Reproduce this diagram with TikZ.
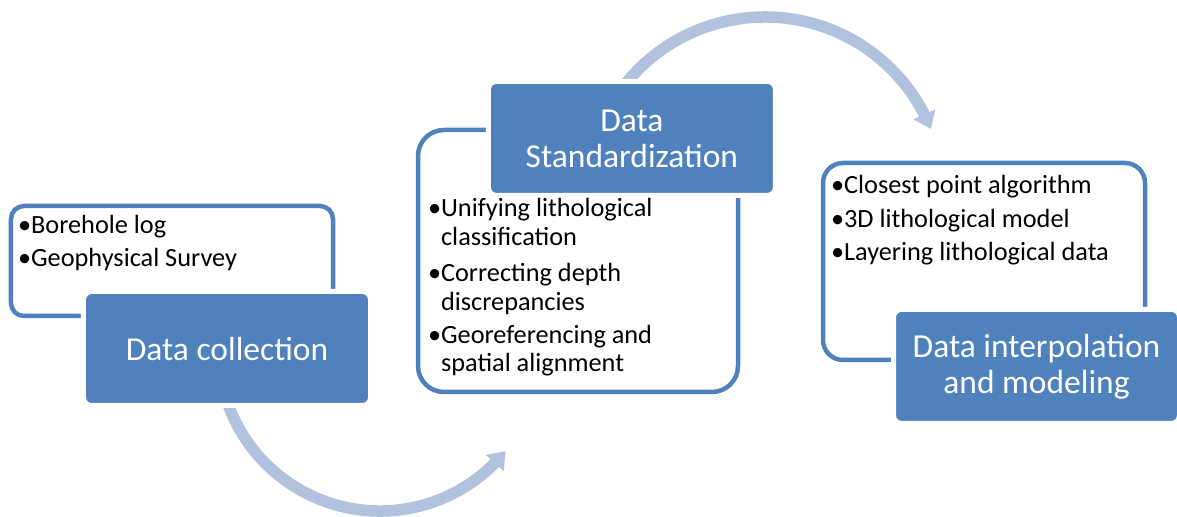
\documentclass[tikz,border=0pt]{standalone}
\usepackage{fontspec}
\setmainfont{Carlito}
\usetikzlibrary{arrows.meta,bending}
\definecolor{accent}{RGB}{79,129,189}
\definecolor{arrowtint}{RGB}{176,194,222}
\tikzset{
  flowarrow/.style={draw=arrowtint, line width=11.5bp,
    -{Triangle[width=23bp,length=16bp]}},
  framebox/.style={draw=accent, line width=4.5bp, rounded corners=#1,
    inner sep=0pt, outer sep=0pt},
  stagebox/.style={fill=accent, draw=white, line width=5bp, rounded corners=8bp,
    inner sep=0pt, outer sep=0pt, minimum height=114bp, text=white,
    align=center, font=\fontsize{33.5bp}{36bp}\selectfont},
  item/.style={anchor=base west, inner sep=0pt, outer sep=0pt,
    font=\fontsize{26.3bp}{29bp}\selectfont, text=black},
}
\begin{document}
\begin{tikzpicture}[x=1bp,y=1bp]
\useasboundingbox (0,0) rectangle (1177,517);

% curved arrows between the stages (drawn first, so the boxes sit on top)
\coordinate (arcA) at (380,167.5);
\coordinate (arcB) at (765,321);
\draw[flowarrow] ([shift={(198:161.5)}]arcA) arc[start angle=198, end angle=321, radius=161.5];
\draw[flowarrow] ([shift={(143:179)}]arcB) arc[start angle=143, end angle=22, radius=179];

% outlined boxes holding the bullet lists
\node[framebox=13bp, minimum width=322bp, minimum height=110bp] (frame1) at (172,256) {};
\node[framebox=26bp, minimum width=320bp, minimum height=262bp] (frame2) at (578,256) {};
\node[framebox=20bp, minimum width=322bp, minimum height=197bp] (frame3) at (984,255.5) {};

% filled stage boxes
\node[stagebox, minimum width=287bp] (stage1) at (227,168.5) {Data collection};
\node[stagebox, minimum width=287bp] (stage2) at (631.9,378.6) {Data\\Standardization};
\node[stagebox, minimum width=286bp] (stage3) at (1036.5,150.6) {Data interpolation\\and modeling};

% bullet lists
\node[item] (l1a) at (18,283) {•Borehole log};
\node[item] (l1b) at (18,250) {•Geophysical Survey};

\node[item] (l2a) at (428,300.3) {•Unifying lithological};
\node[item] (l2b) at (428,271.3) {\phantom{•}classification};
\node[item] (l2c) at (428,235.3) {•Correcting depth};
\node[item] (l2d) at (428,206.3) {\phantom{•}discrepancies};
\node[item] (l2e) at (428,173.7) {•Georeferencing and};
\node[item] (l2f) at (428,145.3) {\phantom{•}spatial alignment};

\node[item] (l3a) at (831,323.7) {•Closest point algorithm};
\node[item] (l3b) at (831,289.7) {•3D lithological model};
\node[item] (l3c) at (831,256.3) {•Layering lithological data};
\end{tikzpicture}
\end{document}
